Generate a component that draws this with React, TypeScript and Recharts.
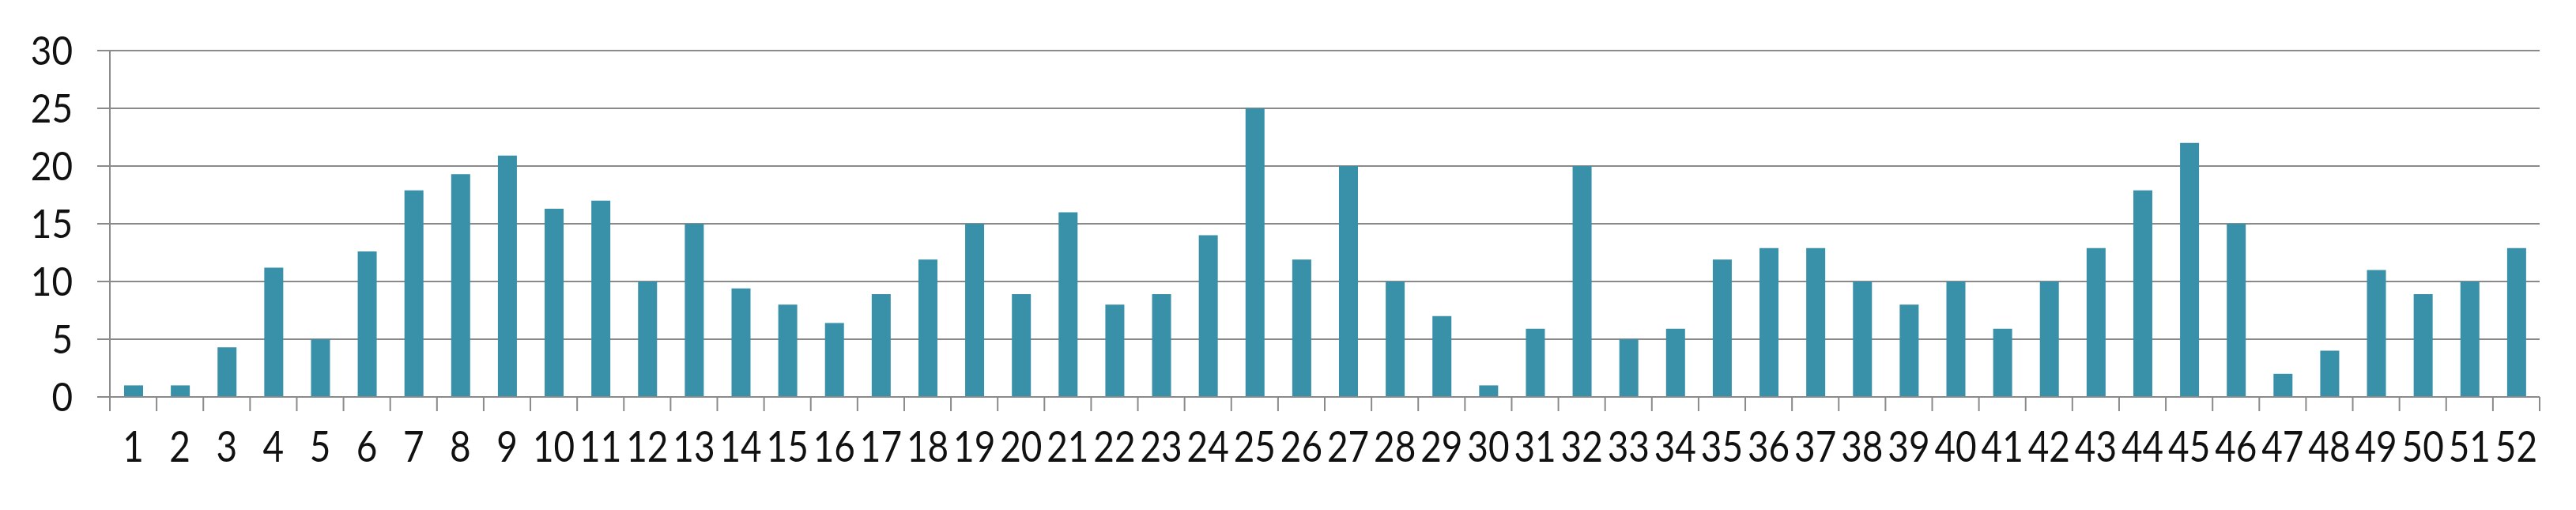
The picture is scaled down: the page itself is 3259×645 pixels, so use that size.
import React from "react";
import { BarChart, Bar, XAxis, YAxis, CartesianGrid } from "recharts";

const weeks = [
  "1", "2", "3", "4", "5", "6", "7", "8", "9", "10", "11", "12", "13",
  "14", "15", "16", "17", "18", "19", "20", "21", "22", "23", "24", "25", "26",
  "27", "28", "29", "30", "31", "32", "33", "34", "35", "36", "37", "38", "39",
  "40", "41", "42", "43", "44", "45", "46", "47", "48", "49", "50", "51", "52",
];

const counts = [
  1, 1, 4.3, 11.2, 5, 12.6, 17.9, 19.3, 20.9, 16.3, 17, 10, 15,
  9.4, 8, 6.4, 8.9, 11.9, 15, 8.9, 16, 8, 8.9, 14, 25, 11.9,
  20, 10, 7, 1, 5.9, 20, 5, 5.9, 11.9, 12.9, 12.9, 10, 8,
  10, 5.9, 10, 12.9, 17.9, 22, 15, 2, 4, 11, 8.9, 10, 12.9,
];

const yTicks = [0, 5, 10, 15, 20, 25, 30];

const data = weeks.map((w, i) => ({ week: w, count: counts[i] }));

const W = 3259;
const H = 645;
const LEFT = 139;
const RIGHT = 46;
const PLOT_W = W - LEFT - RIGHT;
const FONT = "Lato, 'Open Sans', sans-serif";
const GREY = "#8a8a8a";

// labels are drawn a bit squeezed, the original font is a narrow humanist face
const WeekTick = (props: any) => {
  const { x, y, payload, index } = props;
  const step = PLOT_W / weeks.length;
  return (
    <g>
      <line x1={x - step / 2} x2={x - step / 2} y1={y - 44} y2={y - 26} stroke={GREY} strokeWidth={2} />
      {index === weeks.length - 1 && (
        <line x1={x + step / 2} x2={x + step / 2} y1={y - 44} y2={y - 26} stroke={GREY} strokeWidth={2} />
      )}
      <text
        transform={`translate(${x},${y}) scale(0.85,1)`}
        dy="0.71em"
        textAnchor="middle"
        fontSize={54}
        fontFamily={FONT}
        fill="#111"
      >
        {payload.value}
      </text>
    </g>
  );
};

const CountTick = (props: any) => {
  const { x, y, payload } = props;
  return (
    <text
      transform={`translate(${x},${y}) scale(0.9,1)`}
      dy="0.355em"
      textAnchor="end"
      fontSize={51}
      fontFamily={FONT}
      fill="#111"
    >
      {payload.value}
    </text>
  );
};

export default function App() {
  return (
    <div style={{ position: "absolute", left: 0, top: 0, background: "#fff" }}>
      <BarChart
        width={W}
        height={H}
        data={data}
        margin={{ top: 64, right: RIGHT, bottom: 0, left: 0 }}
      >
        <CartesianGrid vertical={false} stroke={GREY} strokeWidth={2} />
        <XAxis
          dataKey="week"
          height={143}
          interval={0}
          tickLine={false}
          tickSize={18}
          tickMargin={26}
          axisLine={{ stroke: GREY, strokeWidth: 2 }}
          tick={<WeekTick />}
        />
        <YAxis
          width={LEFT}
          domain={[0, 30]}
          ticks={yTicks}
          tickSize={16}
          tickMargin={31}
          axisLine={{ stroke: GREY, strokeWidth: 2 }}
          tickLine={{ stroke: GREY, strokeWidth: 2 }}
          tick={<CountTick />}
        />
        <Bar dataKey="count" fill="#3890a9" barSize={24} isAnimationActive={false} />
      </BarChart>
    </div>
  );
}
